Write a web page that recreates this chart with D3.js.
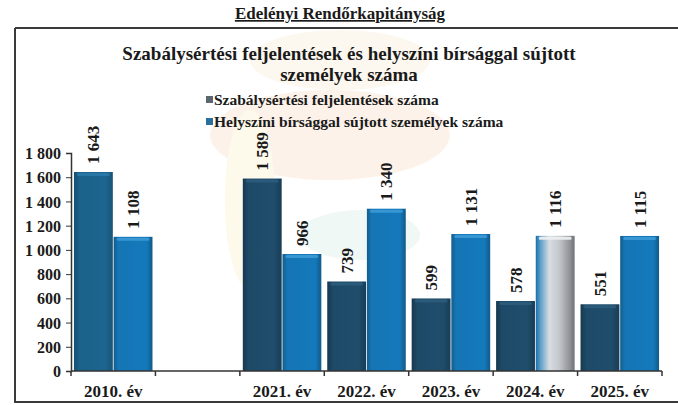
<!DOCTYPE html>
<html>
<head>
<meta charset="utf-8">
<script src="https://cdn.jsdelivr.net/npm/d3@7.9.0/dist/d3.min.js"></script>
<style>
  body { margin: 0; background: #fff; }
  svg text { font-family: "Liberation Serif", "Times New Roman", serif; font-weight: bold; fill: #1a1a1a; }
</style>
</head>
<body>
<svg id="chart" width="678" height="405"></svg>
<script>
// data
const categories = ['2010. év', '', '2021. év', '2022. év', '2023. év', '2024. év', '2025. év'];
const feljelentesek = [1643, null, 1589, 739, 599, 578, 551];
const birsag = [1108, null, 966, 1340, 1131, 1116, 1115];
const seriesNames = ['Szabálysértési feljelentések száma', 'Helyszíni bírsággal sújtott személyek száma'];
const yTicks = [0, 200, 400, 600, 800, 1000, 1200, 1400, 1600, 1800];

const svg = d3.select('#chart');
const defs = svg.append('defs');

// faint watermark in the background (scanned page)
const wm = svg.append('g').attr('opacity', 0.22);
wm.append('ellipse').attr('cx', 330).attr('cy', 135).attr('rx', 120).attr('ry', 45).attr('fill', '#f6c9a0');
wm.append('ellipse').attr('cx', 250).attr('cy', 200).attr('rx', 25).attr('ry', 90).attr('fill', '#f7e7a8');
wm.append('ellipse').attr('cx', 360).attr('cy', 235).attr('rx', 60).attr('ry', 25).attr('fill', '#bfe0d8');
wm.append('ellipse').attr('cx', 340).attr('cy', 60).attr('rx', 90).attr('ry', 30).attr('fill', '#f9e3b8');

// top title
svg.append('text')
  .attr('x', 340).attr('y', 19)
  .attr('text-anchor', 'middle')
  .style('font-size', '17px')
  .style('text-decoration', 'underline')
  .text('Edelényi Rendőrkapitányság');

// frame
svg.append('path')
  .attr('d', 'M15,28 H680 M15,28 V402 H680')
  .attr('fill', 'none').attr('stroke', '#3a3a3a').attr('stroke-width', 2);

// chart title
svg.append('text').attr('x', 349).attr('y', 60).attr('text-anchor', 'middle')
  .style('font-size', '19px').text('Szabálysértési feljelentések és helyszíni bírsággal sújtott');
svg.append('text').attr('x', 349).attr('y', 81).attr('text-anchor', 'middle')
  .style('font-size', '19px').text('személyek száma');

// scales
const x = d3.scaleBand().domain(categories).range([71, 662]).paddingInner(0.07).paddingOuter(0.035);
const xSub = d3.scaleBand().domain([0, 1]).range([0, x.bandwidth()]).paddingInner(0.02);
const y = d3.scaleLinear().domain([0, 1800]).range([371, 153]);

// gradients
function hGrad(id, stops) {
  const g = defs.append('linearGradient').attr('id', id).attr('x1', 0).attr('x2', 1).attr('y1', 0).attr('y2', 0);
  stops.forEach(([o, c]) => g.append('stop').attr('offset', o).attr('stop-color', c));
}
hGrad('gDark', [[0, '#17384f'], [0.15, '#1e4a68'], [0.8, '#1f4d6b'], [1, '#183d56']]);
hGrad('gDark0', [[0, '#164f73'], [0.15, '#1b6189'], [0.8, '#1d6690'], [1, '#175476']]);
hGrad('gBlue', [[0, '#135d8c'], [0.12, '#1575b5'], [0.85, '#1479bb'], [1, '#115a88']]);
hGrad('gSilver', [[0, '#1a6ea8'], [0.12, '#5d9fc9'], [0.35, '#d8dde2'], [0.6, '#c4c8cc'], [0.88, '#8e9296'], [1, '#6e7276']]);

const barColor = [
  (i) => i === 0 ? 'url(#gDark0)' : 'url(#gDark)',
  (i) => categories[i] === '2024. év' ? 'url(#gSilver)' : 'url(#gBlue)'
];
const capColor = [
  (i) => i === 0 ? '#2a79a6' : '#2c5c7c',
  (i) => categories[i] === '2024. év' ? '#eef0f2' : '#3b9ad6'
];

// axes
const yAxis = svg.append('g').attr('transform', 'translate(71,0)')
  .call(d3.axisLeft(y).tickValues(yTicks).tickSize(5).tickPadding(5)
    .tickFormat(d => d3.format(',')(d).replace(',', ' ')));
yAxis.selectAll('text').style('font-size', '16px').attr('dy', '0.35em');
yAxis.select('.domain').attr('stroke', '#333').attr('stroke-width', 1.5);
yAxis.selectAll('.tick line').attr('stroke', '#333');

// bars
[feljelentesek, birsag].forEach((vals, s) => {
  const g = svg.append('g');
  categories.forEach((c, i) => {
    const v = vals[i];
    if (v == null) return;
    const bx = x(c) + xSub(s);
    const bw = xSub.bandwidth();
    g.append('rect').attr('x', bx).attr('y', y(v)).attr('width', bw).attr('height', y(0) - y(v))
      .attr('fill', barColor[s](i));
    g.append('rect').attr('x', bx + 3).attr('y', y(v) + 1).attr('width', bw - 6).attr('height', 3)
      .attr('rx', 1.5).attr('fill', capColor[s](i)).attr('opacity', 0.9);
    g.append('text')
      .attr('transform', `translate(${bx + bw / 2 + 6},${y(v) - 8}) rotate(-90)`)
      .style('font-size', '17px')
      .text(d3.format(',')(v).replace(',', ' '));
  });
});

// x axis
const xa = svg.append('g');
xa.append('line').attr('x1', 71).attr('x2', 662).attr('y1', y(0)).attr('y2', y(0))
  .attr('stroke', '#333').attr('stroke-width', 1.5);
const bounds = categories.map(c => x(c) - x.step() * x.paddingInner() / 2).concat([662]);
xa.selectAll('line.tk').data(bounds).join('line').attr('class', 'tk')
  .attr('x1', d => d).attr('x2', d => d).attr('y1', y(0)).attr('y2', y(0) + 5)
  .attr('stroke', '#333').attr('stroke-width', 1.5);
xa.selectAll('text').data(categories).join('text')
  .attr('x', d => x(d) + x.bandwidth() / 2).attr('y', 397)
  .attr('text-anchor', 'middle').style('font-size', '17px')
  .text(d => d);

// legend
const lg = svg.append('g');
const legendColors = ['#5b6670', '#2a6f9e'];
seriesNames.forEach((n, i) => {
  const ly = 100 + i * 22;
  lg.append('rect').attr('x', 206).attr('y', ly - 4).attr('width', 7).attr('height', 7).attr('fill', legendColors[i]);
  lg.append('text').attr('x', 214).attr('y', ly + 5).style('font-size', '15.5px').text(n);
});
</script>
</body>
</html>
